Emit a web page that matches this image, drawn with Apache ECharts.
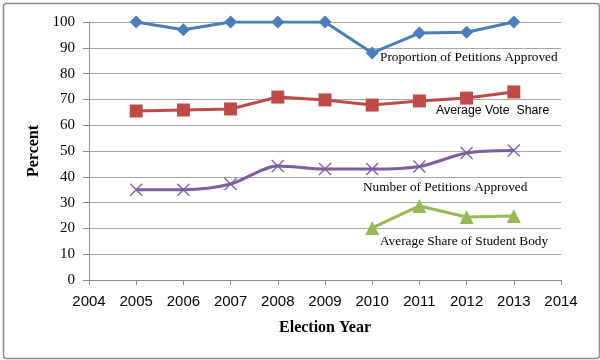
<!DOCTYPE html>
<html><head><meta charset="utf-8">
<script src="https://cdn.jsdelivr.net/npm/echarts@6/dist/echarts.min.js"></script>
<style>html,body{margin:0;padding:0;background:#fff}#c{width:600px;height:360px}</style>
</head><body><div id="c"></div>
<script>
const years = [2005,2006,2007,2008,2009,2010,2011,2012,2013];
const proportionApproved = [100,97,100,100,100,88,95.7,96,100];
const avgVoteShare = [65.5,65.9,66.3,70.9,69.8,67.8,69.4,70.5,72.9];
const numberApproved = [35,35,37.2,44.2,43,43,44,49.2,50.2];
const studentBodyYears = [2010,2011,2012,2013];
const studentBodyShare = [20.2,28.7,24.4,24.8];

const pair = (xs, ys) => xs.map((x,i)=>[x, ys[i]]);
const crossPath = 'path://M0,0 L10,10 M10,0 L0,10';
const chart = echarts.init(document.getElementById('c'));
const serif = '"Liberation Serif","DejaVu Serif",serif';
const sans = '"Liberation Sans","DejaVu Sans",sans-serif';
chart.setOption({
  animation:false,
  grid:{left:89,right:39,top:22,bottom:80},
  xAxis:{type:'value',min:2004,max:2014,interval:1,
    name:'Election Year',nameLocation:'middle',nameGap:40,
    nameTextStyle:{fontFamily:serif,fontWeight:'bold',fontSize:16,color:'#000'},
    axisLine:{lineStyle:{color:'#8c8c8c'}},
    axisTick:{show:true,length:5,lineStyle:{color:'#8c8c8c'}},
    axisLabel:{fontFamily:sans,fontSize:15,color:'#000',margin:14,formatter:v=>String(v)},
    splitLine:{show:false}},
  yAxis:{type:'value',min:0,max:100,interval:10,
    name:'Percent',nameLocation:'middle',nameGap:44,
    nameTextStyle:{fontFamily:serif,fontWeight:'bold',fontSize:16,color:'#000'},
    axisLine:{show:true,lineStyle:{color:'#8c8c8c'}},
    axisTick:{show:true,length:6,lineStyle:{color:'#8c8c8c'}},
    axisLabel:{fontFamily:serif,fontSize:15,color:'#000',margin:14},
    splitLine:{lineStyle:{color:'#a6a6a6',width:1}}},
  series:[
    {type:'line',data:pair(years,proportionApproved),symbol:'diamond',symbolSize:13,
      lineStyle:{color:'#4a7ebb',width:3},itemStyle:{color:'#4a7ebb'}},
    {type:'line',data:pair(years,avgVoteShare),symbol:'rect',symbolSize:13,
      lineStyle:{color:'#be4b48',width:3},itemStyle:{color:'#be4b48'}},
    {type:'line',data:pair(years,numberApproved),symbol:crossPath,symbolSize:12,smooth:0.3,
      lineStyle:{color:'#7d5fa0',width:3},itemStyle:{color:'none',borderColor:'#7d5fa0',borderWidth:1.3}},
    {type:'line',data:pair(studentBodyYears,studentBodyShare),symbol:'triangle',symbolSize:14,
      lineStyle:{color:'#98b954',width:3},itemStyle:{color:'#98b954'}}
  ],
  graphic:[
    {type:'rect',left:1,top:1,shape:{width:596,height:355,r:3},style:{fill:'none',stroke:'#8c8c8c',lineWidth:1.5},silent:true},
    {type:'text',left:380,top:51,style:{text:'Proportion of Petitions Approved',font:'13.3px '+serif,fill:'#000'}},
    {type:'text',left:436,top:105,style:{text:'Average Vote  Share',font:'12.3px '+sans,fill:'#000'}},
    {type:'text',left:363,top:181,style:{text:'Number of Petitions Approved',font:'13.3px '+serif,fill:'#000'}},
    {type:'text',left:380,top:235,style:{text:'Average Share of Student Body',font:'13.3px '+serif,fill:'#000'}}
  ]
});
</script></body></html>
